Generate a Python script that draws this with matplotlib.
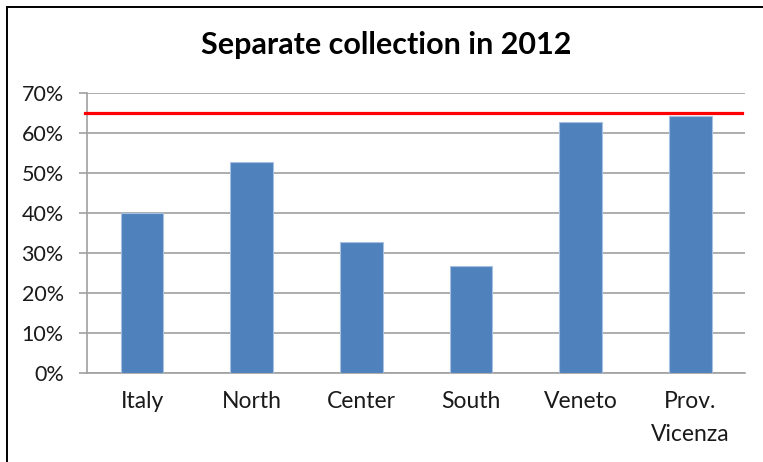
import matplotlib
matplotlib.use("Agg")
from matplotlib import pyplot as plt
from matplotlib.lines import Line2D
from matplotlib.ticker import FuncFormatter

# Share of separate waste collection per area, in percent
areas = ["Italy", "North", "Center", "South", "Veneto", "Prov.\nVicenza"]
shares = [40.0, 52.6, 32.7, 26.7, 62.6, 64.2]
target = 65.0

plt.rcParams["font.family"] = ["Lato", "DejaVu Sans"]

fig = plt.figure(figsize=(7.63, 4.62), dpi=100)
ax = fig.add_axes([0.1144, 0.1933, 0.862, 0.6061])

x = list(range(len(areas)))
ax.bar(x, shares, width=0.39, color="#4F81BD", edgecolor="#A9C1E0", linewidth=0.8, zorder=3)
ax.axhline(target, xmin=-0.004, xmax=0.995, color="#FF0000", linewidth=2.3, zorder=4, clip_on=False)

ax.set_xlim(-0.5, len(areas) - 0.5)
ax.set_ylim(0, 70)
ax.set_yticks(range(0, 71, 10))
ax.yaxis.set_major_formatter(FuncFormatter(lambda v, _: f"{v:.0f}%"))
ax.set_xticks(x)
ax.set_xticklabels(areas, linespacing=1.72)

ax.grid(axis="y", color="#A0A0A0", linewidth=1.2, zorder=0)
for side in ["top", "right"]:
    ax.spines[side].set_visible(False)
for side in ["left", "bottom"]:
    ax.spines[side].set_color("#A0A0A0")
    ax.spines[side].set_linewidth(1.2)

ax.tick_params(axis="y", length=6, width=1.2, color="#A0A0A0", labelsize=15.5, pad=11, labelcolor="#1A1A1A")
ax.tick_params(axis="x", length=0, labelsize=16.5, pad=13, labelcolor="#1A1A1A")

fig.text(0.506, 0.902, "Separate collection in 2012", ha="center", va="center",
         fontsize=22, fontweight="bold", color="black")

# outer chart frame
fig.add_artist(Line2D([7 / 763, 1.0], [1 - 7 / 462, 1 - 7 / 462], color="black", linewidth=1.4))
fig.add_artist(Line2D([7 / 763, 7 / 763], [0.0, 1 - 7 / 462], color="black", linewidth=1.4))

fig.savefig("out.png", dpi=100)
